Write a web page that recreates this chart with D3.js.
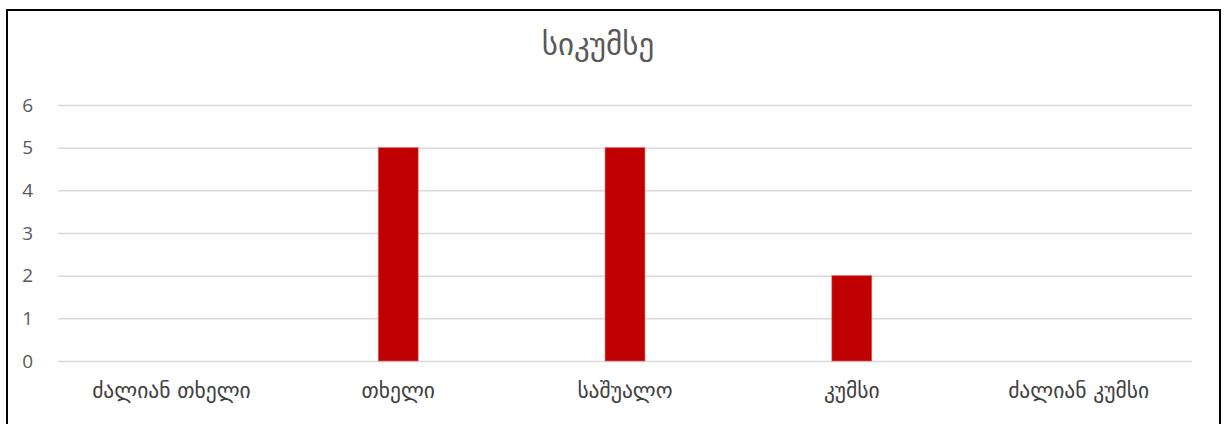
<!DOCTYPE html>
<html>
<head>
<meta charset="utf-8">
<script src="https://cdn.jsdelivr.net/npm/d3@7"></script>
<style>
  html, body { margin: 0; padding: 0; background: #fff; }
  svg { display: block; }
</style>
</head>
<body>
<svg id="chart" width="1225" height="424"></svg>
<script>
// Chart data
const categories = ["ძალიან თხელი", "თხელი", "საშუალო", "კუმსი", "ძალიან კუმსი"];
const values = [0, 5, 5, 2, 0];
const yTicks = [0, 1, 2, 3, 4, 5, 6];
const chartTitle = "სიკუმსე";

const svg = d3.select("#chart");

// Outer frame of the chart area
svg.append("rect")
  .attr("x", 7).attr("y", 10)
  .attr("width", 1213).attr("height", 430)
  .attr("fill", "#fff")
  .attr("stroke", "#000")
  .attr("stroke-width", 2);

const plot = { left: 58, right: 1192, top: 105, bottom: 361 };

const x = d3.scaleBand()
  .domain(categories)
  .range([plot.left, plot.right])
  .paddingInner(0.824)
  .paddingOuter(0.412);

const y = d3.scaleLinear()
  .domain([0, 6])
  .range([plot.bottom, plot.top]);

// Horizontal gridlines with left tick labels
const yAxis = d3.axisLeft(y)
  .tickValues(yTicks)
  .tickSize(-(plot.right - plot.left))
  .tickPadding(25)
  .tickFormat(d3.format("d"));

const gy = svg.append("g")
  .attr("transform", `translate(${plot.left},0)`)
  .call(yAxis);
gy.select(".domain").remove();
gy.selectAll(".tick line")
  .attr("stroke", "#d9d9d9")
  .attr("stroke-width", 1.5);
gy.selectAll(".tick text")
  .style("fill", "#595959")
  .style("font-family", "'Open Sans', 'Liberation Sans', sans-serif")
  .style("font-size", "19px");

// Bars
svg.append("g")
  .selectAll("rect")
  .data(categories.map((c, i) => ({ c, v: values[i] })))
  .join("rect")
  .attr("x", d => x(d.c))
  .attr("y", d => y(d.v))
  .attr("width", x.bandwidth())
  .attr("height", d => y(0) - y(d.v))
  .attr("fill", "#c00000")
  .attr("stroke", d => d.v > 0 ? "#e06666" : "none")
  .attr("stroke-width", 0.6);

// Category labels along the bottom
const xAxis = d3.axisBottom(x).tickSize(0).tickPadding(22);
const gx = svg.append("g")
  .attr("transform", `translate(0,${plot.bottom})`)
  .call(xAxis);
gx.select(".domain").remove();
gx.selectAll(".tick text")
  .style("fill", "#404040")
  .style("font-family", "'DejaVu Sans', sans-serif")
  .style("font-size", "21.5px");

// Title
svg.append("text")
  .attr("x", 598)
  .attr("y", 55)
  .attr("text-anchor", "middle")
  .style("fill", "#595959")
  .style("font-family", "'DejaVu Sans', sans-serif")
  .style("font-size", "31px")
  .text(chartTitle);
</script>
</body>
</html>
